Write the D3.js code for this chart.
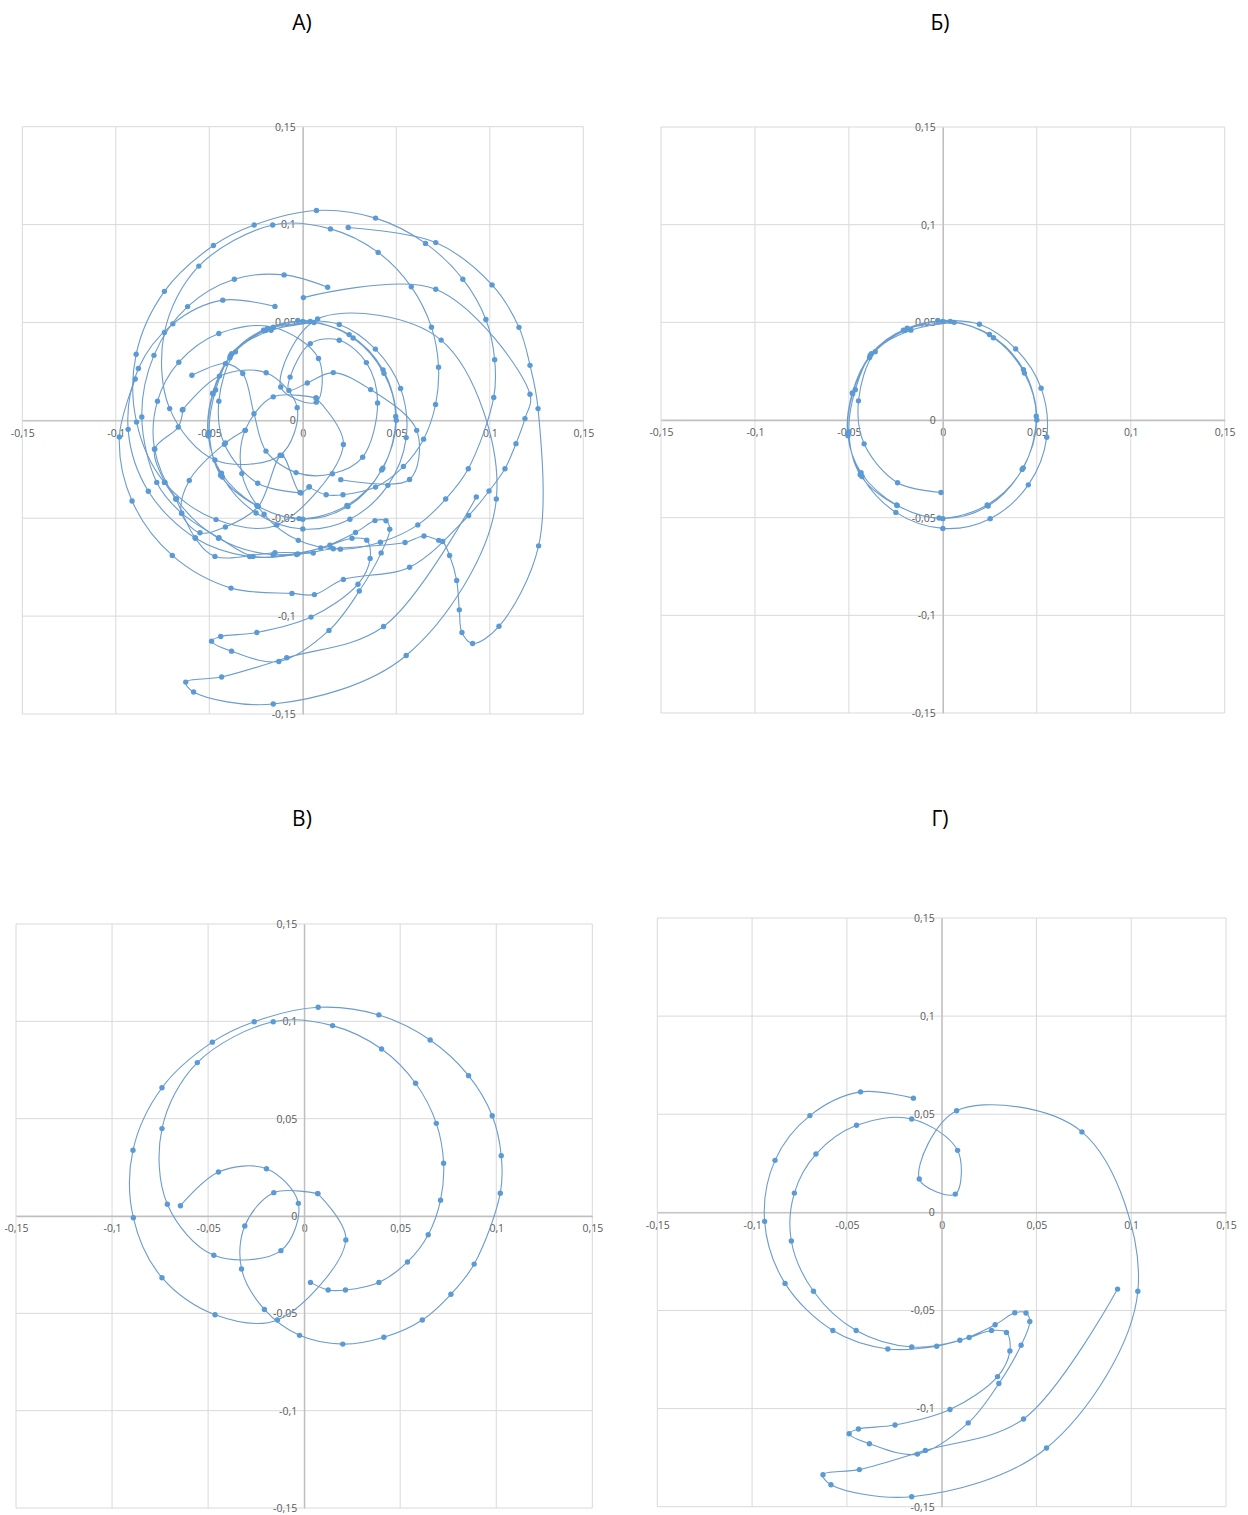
<!DOCTYPE html>
<html>
<head>
<meta charset="utf-8">
<script src="https://cdn.jsdelivr.net/npm/d3@7"></script>
<style>
body { margin: 0; background: #fff; }
</style>
</head>
<body>
<svg id="chart" width="1248" height="1515"></svg>
<script>
// tick values and labels (comma decimals as in the original)
var tickValues = [-0.15, -0.1, -0.05, 0, 0.05, 0.1, 0.15];
var tickLabels = ["-0,15", "-0,1", "-0,05", "0", "0,05", "0,1", "0,15"];
var panelTitles = ["А)", "Б)", "В)", "Г)"];

// Б: circle, three laps then inward
var bPath1 = [
	[-0.0027, 0.051], [0.0195, 0.049], [0.0388, 0.0364], [0.0523, 0.0163], [0.0553, -0.0088],
	[0.0455, -0.0332], [0.0252, -0.0505], [0.0, -0.0555], [-0.025, -0.0473], [-0.043, -0.0289],
	[-0.0507, -0.0069], [-0.0482, 0.0139], [-0.0387, 0.033], [-0.02, 0.0459], [0.0, 0.0505],
	[0.0248, 0.0438], [0.0429, 0.0258], [0.05, 0.0], [0.0422, -0.0253], [0.0241, -0.044],
	[0.0, -0.0505], [-0.0243, -0.0438], [-0.044, -0.028], [-0.05, -0.006], [-0.0466, 0.0155],
	[-0.038, 0.034], [-0.019, 0.047], [0.004, 0.0505], [0.0269, 0.0421], [0.0434, 0.024],
	[0.0497, 0.002], [0.0428, -0.0245], [0.0236, -0.0435], [-0.002, -0.0502], [-0.0246, -0.0435],
	[-0.0435, -0.027], [-0.0505, -0.008], [-0.048, 0.0135], [-0.039, 0.032], [-0.021, 0.046],
	[0.006, 0.05], [-0.017, 0.046], [-0.036, 0.035], [-0.0449, 0.0098], [-0.0419, -0.0122],
	[-0.0241, -0.0321], [-0.001, -0.0371]
];

// В: two spirals
var vPath1 = [
	[-0.0644, 0.0053], [-0.0446, 0.0226], [-0.0196, 0.0243], [-0.003, 0.0065], [-0.0121, -0.0178],
	[-0.047, -0.0202], [-0.0712, 0.006], [-0.074, 0.0449], [-0.0556, 0.0788], [-0.0161, 0.0998],
	[0.0148, 0.0978], [0.0403, 0.0858], [0.058, 0.0682], [0.0688, 0.0476], [0.0726, 0.0271],
	[0.071, 0.0081], [0.0646, -0.0096], [0.0538, -0.0236], [0.0389, -0.0341], [0.0215, -0.038],
	[0.0125, -0.038], [0.0033, -0.0341]
];
var vPath2 = [
	[0.0071, 0.0115], [-0.0158, 0.012], [-0.0309, -0.0051], [-0.0326, -0.0272], [-0.0207, -0.048],
	[-0.0024, -0.0613], [0.0201, -0.0658], [0.0415, -0.0623], [0.0615, -0.0534], [0.0764, -0.0402],
	[0.0885, -0.0247], [0.1021, 0.0117], [0.1026, 0.031], [0.0979, 0.0515], [0.0856, 0.0721],
	[0.0656, 0.0904], [0.0389, 0.1033], [0.0073, 0.1072], [-0.026, 0.0998], [-0.0478, 0.0893],
	[-0.074, 0.0659], [-0.0891, 0.0338], [-0.0889, -0.0009], [-0.074, -0.0317], [-0.0464, -0.0507],
	[-0.0139, -0.0534], [0.0217, -0.0123], [0.0071, 0.0115]
];

// Г: one long trajectory
var gPath1 = [
	[-0.0149, 0.0582], [-0.0428, 0.0614], [-0.0695, 0.0493], [-0.0879, 0.0265], [-0.0934, -0.0046],
	[-0.0826, -0.0362], [-0.0574, -0.0602], [-0.0284, -0.0696], [-0.0026, -0.0682], [0.0145, -0.0638],
	[0.0263, -0.0602], [0.0342, -0.0612], [0.036, -0.0706], [0.0295, -0.0837], [0.0044, -0.1005],
	[-0.0246, -0.1084], [-0.0439, -0.1104], [-0.0488, -0.1128], [-0.0381, -0.1179], [-0.0128, -0.1232],
	[0.014, -0.1073], [0.0302, -0.0872], [0.0419, -0.0677], [0.0465, -0.0556], [0.0445, -0.0513],
	[0.0386, -0.0512], [0.0282, -0.0573], [0.0096, -0.0652], [-0.0158, -0.0686], [-0.0451, -0.0602],
	[-0.0676, -0.0402], [-0.0793, -0.0146], [-0.0777, 0.0098], [-0.0663, 0.0297], [-0.0449, 0.0444],
	[-0.0158, 0.0476], [0.0084, 0.0316], [0.0072, 0.0093], [-0.0118, 0.017], [0.0079, 0.0518],
	[0.074, 0.041], [0.1035, -0.0402], [0.0553, -0.1201], [-0.0158, -0.1449], [-0.0584, -0.1388],
	[-0.0626, -0.1337], [-0.0434, -0.1311], [-0.0086, -0.1213], [0.0432, -0.1053], [0.0928, -0.0391]
];

// А: extra trajectories seen only in the combined panel
var aPath1 = [
	[0.0243, 0.0985], [0.0711, 0.0908], [0.1012, 0.0692], [0.1156, 0.0475], [0.1215, 0.0281],
	[0.1258, 0.006], [0.1261, -0.0641], [0.1049, -0.1052], [0.0908, -0.114], [0.0851, -0.1084],
	[0.0837, -0.0968], [0.0823, -0.0818], [0.0785, -0.069], [0.0748, -0.0619], [0.0727, -0.0613],
	[0.0648, -0.0591], [0.0547, -0.0624], [0.0163, -0.0656], [-0.0033, -0.0685], [-0.0266, -0.0695],
	[-0.0448, -0.06], [-0.0648, -0.0474], [-0.0781, -0.0317], [-0.0861, 0.0017], [-0.0796, 0.0332],
	[-0.0616, 0.0581], [-0.0366, 0.0721], [-0.01, 0.0743], [0.0133, 0.068]
];
var aPath2 = [
	[0.0003, 0.0627], [0.0711, 0.067], [0.1215, 0.0133], [0.1188, 0.0009], [0.114, -0.0119],
	[0.1081, -0.0247], [0.0996, -0.0361], [0.0887, -0.0486], [0.0571, -0.075], [0.0217, -0.0813],
	[0.0062, -0.089], [-0.0058, -0.0884], [-0.0384, -0.0857], [-0.0698, -0.069], [-0.0913, -0.0412],
	[-0.0981, -0.0085], [-0.0896, 0.0211]
];
var aPath3 = [
	[-0.0593, 0.023], [-0.0414, 0.029], [-0.0321, 0.0239], [-0.0261, 0.0034], [-0.0197, -0.0157],
	[-0.0036, -0.0267], [0.0158, -0.0273], [0.032, -0.0188], [0.04, 0.0089], [0.034, 0.0295],
	[0.0195, 0.0409], [0.004, 0.0392], [-0.0068, 0.0221], [-0.0074, 0.0153], [0.0024, 0.0191],
	[0.0163, 0.0244], [0.0363, 0.0157], [0.0609, -0.0051], [0.0571, -0.0302], [0.0203, -0.0303]
];
var aPath4 = [
	[-0.0307, -0.0051], [-0.0414, -0.0116], [-0.0607, -0.0307], [-0.0648, -0.0474], [-0.055, -0.0574],
	[-0.0414, -0.0545], [-0.0238, -0.044], [-0.0113, -0.0179], [-0.0015, -0.0368], [0.0035, -0.0339]
];
var aPath5 = [
	[-0.0641, 0.0056], [-0.0666, -0.0034], [-0.0792, -0.0147], [-0.0737, -0.0317], [-0.068, -0.0402],
	[-0.0576, -0.06], [-0.047, -0.0695], [-0.0149, -0.0676], [0.0056, -0.0678]
];

var panels = [
	{ title: panelTitles[0], tx: 302, ty: 30, x0: 22.3, x1: 583.3, y0: 126.7, y1: 714,
		series: [bPath1, vPath1, vPath2, gPath1, aPath1, aPath2, aPath3, aPath4, aPath5] },
	{ title: panelTitles[1], tx: 940, ty: 30, x0: 661, x1: 1224.7, y0: 127, y1: 713, series: [bPath1] },
	{ title: panelTitles[2], tx: 302, ty: 826, x0: 16, x1: 592.3, y0: 924, y1: 1508, series: [vPath1, vPath2] },
	{ title: panelTitles[3], tx: 940, ty: 826, x0: 657.3, x1: 1226, y0: 918, y1: 1506.7, series: [gPath1] }
];

var lineColor = "#5b9bd5";
var svg = d3.select("#chart");

var drawPanel = function (p) {
	var g = svg.append("g");
	var x = d3.scaleLinear().domain([-0.15, 0.15]).range([p.x0, p.x1]);
	var y = d3.scaleLinear().domain([-0.15, 0.15]).range([p.y1, p.y0]);

	g.append("text")
		.attr("x", p.tx)
		.attr("y", p.ty)
		.attr("text-anchor", "middle")
		.style("font-family", "Open Sans, Noto Sans, sans-serif")
		.style("font-size", "21px")
		.style("fill", "#000")
		.text(p.title);

	// grid
	g.selectAll(".gx").data(tickValues).enter().append("line")
		.attr("x1", function (d) { return x(d); })
		.attr("x2", function (d) { return x(d); })
		.attr("y1", p.y0).attr("y2", p.y1)
		.attr("stroke", "#d9d9d9").attr("stroke-width", 1);
	g.selectAll(".gy").data(tickValues).enter().append("line")
		.attr("y1", function (d) { return y(d); })
		.attr("y2", function (d) { return y(d); })
		.attr("x1", p.x0).attr("x2", p.x1)
		.attr("stroke", "#d9d9d9").attr("stroke-width", 1);

	var fmt = function (d) { return tickLabels[tickValues.indexOf(d)]; };
	var ax = g.append("g")
		.attr("transform", "translate(0," + y(0) + ")")
		.call(d3.axisBottom(x).tickValues(tickValues).tickFormat(fmt).tickSize(0).tickPadding(9));
	var ay = g.append("g")
		.attr("transform", "translate(" + x(0) + ",0)")
		.call(d3.axisLeft(y).tickValues(tickValues).tickFormat(fmt).tickSize(0).tickPadding(7));
	[ax, ay].forEach(function (a) {
		a.select(".domain").attr("stroke", "#bfbfbf").attr("stroke-width", 1.3);
		a.selectAll("text")
			.style("font-family", "Open Sans, Noto Sans, sans-serif")
			.style("font-size", "10.5px")
			.style("fill", "#595959");
	});

	var line = d3.line()
		.x(function (d) { return x(d[0]); })
		.y(function (d) { return y(d[1]); })
		.curve(d3.curveCatmullRom.alpha(0.5));

	p.series.forEach(function (s) {
		g.append("path")
			.attr("d", line(s))
			.attr("fill", "none")
			.attr("stroke", "#6b9ccc")
			.attr("stroke-width", 1.1);
	});
	p.series.forEach(function (s) {
		g.selectAll(null).data(s).enter().append("circle")
			.attr("cx", function (d) { return x(d[0]); })
			.attr("cy", function (d) { return y(d[1]); })
			.attr("r", 2.7)
			.attr("fill", lineColor);
	});
};

panels.forEach(drawPanel);
</script>
</body>
</html>
